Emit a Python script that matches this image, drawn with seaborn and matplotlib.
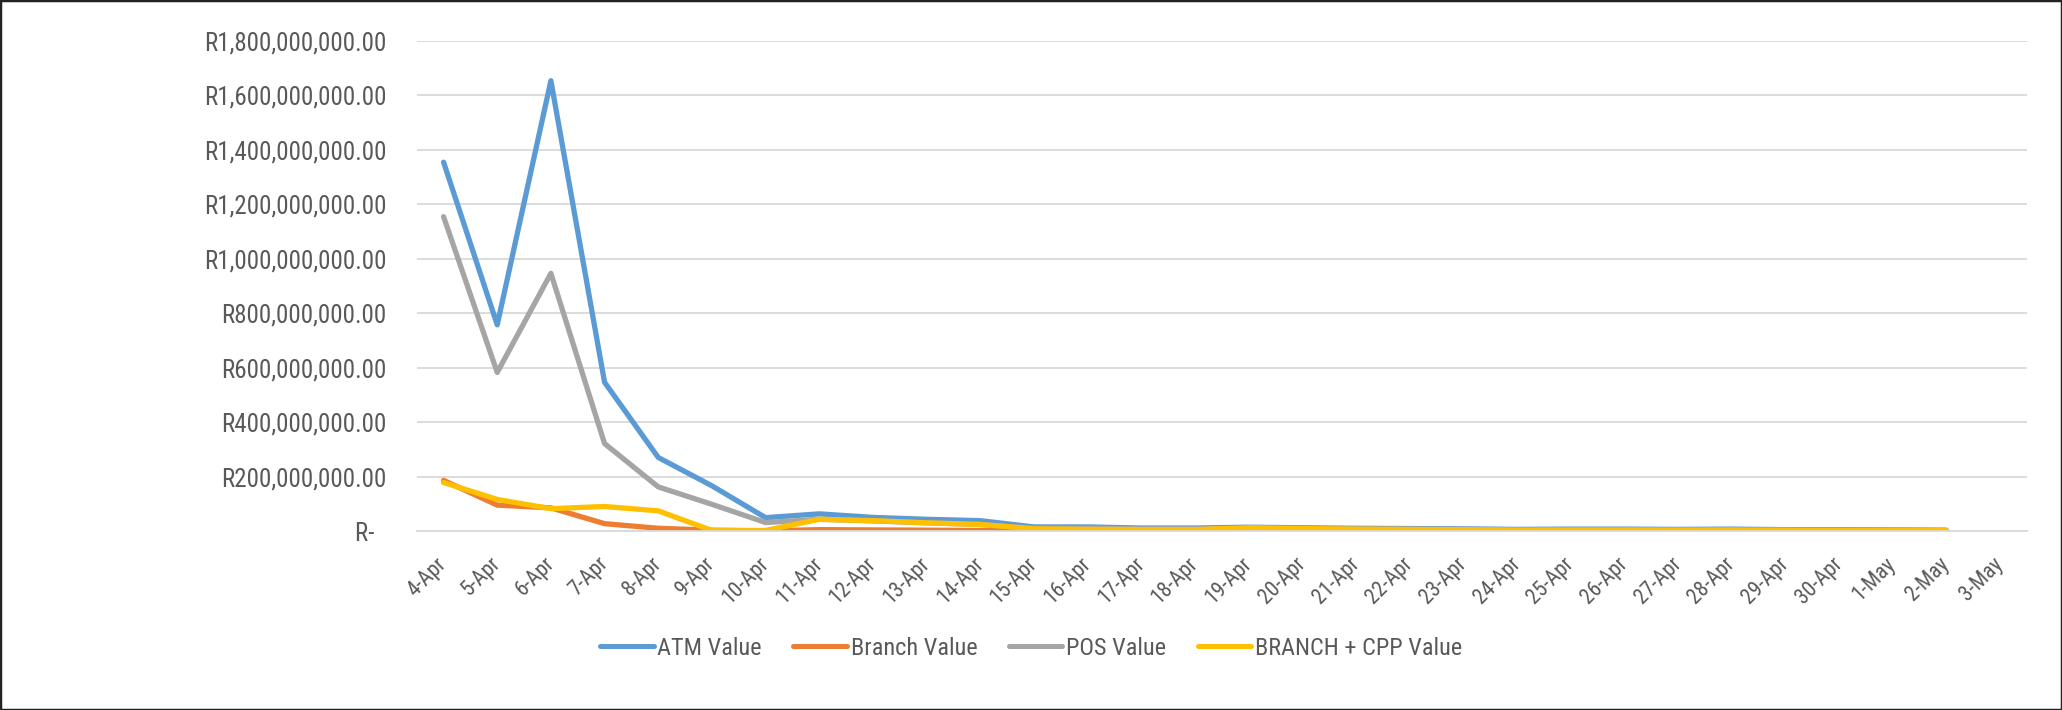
import numpy as np
import pandas as pd
import seaborn as sns
import matplotlib.pyplot as plt
from matplotlib.patches import Rectangle
from matplotlib.ticker import FuncFormatter

# category labels (3-May has no data)
dates = ['4-Apr', '5-Apr', '6-Apr', '7-Apr', '8-Apr', '9-Apr', '10-Apr', '11-Apr',
         '12-Apr', '13-Apr', '14-Apr', '15-Apr', '16-Apr', '17-Apr', '18-Apr',
         '19-Apr', '20-Apr', '21-Apr', '22-Apr', '23-Apr', '24-Apr', '25-Apr',
         '26-Apr', '27-Apr', '28-Apr', '29-Apr', '30-Apr', '1-May', '2-May', '3-May']

# values in millions of rand, 4-Apr .. 2-May
atm_value = [1354, 757, 1653, 546, 270, 166, 49, 63, 50, 43, 38, 15,
             15, 11, 11, 14, 12, 10, 9, 8, 6, 7, 7, 6, 7, 5, 5, 4, 3]
branch_value = [186, 95, 85, 27, 10, 3, 0.5, 5, 4, 3, 2, 1,
                1, 1, 1, 3, 2, 1, 1, 1, 1, 1, 1, 1, 1, 1, 1, 1, 1]
pos_value = [1154, 582, 946, 321, 162, 98, 31, 43, 37, 30, 24, 10,
             10, 8, 8, 10, 9, 7, 6, 6, 4, 5, 5, 4, 5, 4, 3, 3, 2]
branch_cpp_value = [178, 116, 82, 90, 74, 2, 2, 43, 38, 30, 24, 8,
                    6, 5, 5, 12, 9, 7, 6, 5, 3, 3, 3, 3, 3, 2, 2, 2, 2]

series = {
    'ATM Value': atm_value,
    'Branch Value': branch_value,
    'POS Value': pos_value,
    'BRANCH + CPP Value': branch_cpp_value,
}
colors = ['#5B9BD5', '#ED7D31', '#A5A5A5', '#FFC000']

rows = []
for name, vals in series.items():
    for i, v in enumerate(vals):
        rows.append({'day': i, 'value': v * 1e6, 'series': name})
df = pd.DataFrame(rows)

sns.set_style('white')
plt.rcParams['font.family'] = ['Roboto Condensed', 'Liberation Sans', 'DejaVu Sans']
text_color = '#595959'
grid_color = '#D9D9D9'

fig, ax = plt.subplots(figsize=(20.62, 7.10), dpi=100)
fig.subplots_adjust(left=0.2021, right=0.9829, top=0.9427, bottom=0.2521)

sns.lineplot(data=df, x='day', y='value', hue='series', palette=colors,
             linewidth=3.8, ax=ax, solid_capstyle='round')

ax.set_xlim(-0.5, len(dates) - 0.5)
ax.set_ylim(0, 1.8e9)
ax.set_yticks(np.arange(0, 1.8e9 + 1, 2e8))


def rand_fmt(v, pos):
    if v == 0:
        return 'R-  '
    return 'R{:,.2f}'.format(v)


ax.yaxis.set_major_formatter(FuncFormatter(rand_fmt))
ax.set_xticks(range(len(dates)))
ax.set_xticklabels(dates, rotation=45, ha='right', va='center', rotation_mode='anchor')
ax.set_xticks(np.arange(-0.5, len(dates)), minor=True)

ax.tick_params(axis='y', length=0, pad=22, labelsize=18, labelcolor=text_color)
ax.tick_params(axis='x', which='major', length=0, pad=21.5, labelsize=15.5, labelcolor=text_color)
ax.tick_params(axis='x', which='minor', length=6, width=1.3, color=grid_color, direction='out')

ax.yaxis.grid(True, color=grid_color, lw=1.3)
ax.set_axisbelow(True)
for s in ['left', 'top', 'right']:
    ax.spines[s].set_visible(False)
ax.spines['bottom'].set_color(grid_color)
ax.spines['bottom'].set_linewidth(1.3)
ax.set_xlabel('')
ax.set_ylabel('')

handles, labels = ax.get_legend_handles_labels()
ax.get_legend().remove()
leg = fig.legend(handles, labels, loc='center', bbox_to_anchor=(0.5, 0.087),
                 ncol=4, frameon=False, fontsize=17.5, handlelength=2.2,
                 handletextpad=0.15, columnspacing=1.3, labelcolor=text_color)
for line in leg.get_lines():
    line.set_linewidth(3.6)
    line.set_solid_capstyle('round')

fig.patches.append(Rectangle((0, 0), 1, 1, transform=fig.transFigure,
                             fill=False, edgecolor='#222222', lw=2.5))

fig.savefig('out.png', dpi=100)
